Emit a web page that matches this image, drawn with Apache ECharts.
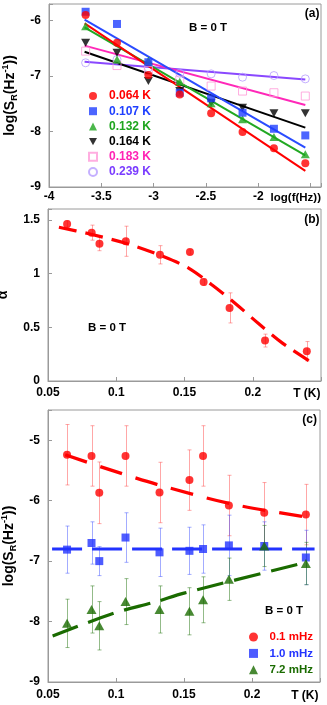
<!DOCTYPE html>
<html>
<head>
<meta charset="utf-8">
<title>noise spectra</title>
<script src="https://cdn.jsdelivr.net/npm/echarts@6/dist/echarts.min.js"></script>
<style>
  html, body { margin: 0; padding: 0; background: #fff; }
  #chart { width: 327px; height: 705px; }
</style>
</head>
<body>
<div id="chart"></div>
<script>
// panel (a): log(S_R) against log(f) for each temperature
var logFreq = [-3.65, -3.35, -3.05, -2.75, -2.45, -2.15, -1.85, -1.55];
var s064 = [-5.9, -6.4, -6.98, -7.33, -7.67, -8.01, -8.3, -8.57];
var s107 = [-5.84, -6.06, -6.75, -7.3, -7.4, -7.66, -7.95, -8.07];
var s132 = [-6.1, -6.7, -6.72, -7.1, -7.49, -7.78, -8.1, -8.41];
var s164 = [-6.4, -6.58, -7.09, -7.27, -7.48, -7.57, -7.67, -7.67];
var s183 = [-6.55, -6.81, -6.9, -7.07, -7.18, -7.27, -7.3, -7.36];
var s239 = [-6.76, -6.7, -6.85, -6.95, -6.96, -7.02, -6.99, -7.05];
// straight fits, from first to last frequency
var fitFreq = [-3.66, -1.55];
var fit064 = [-6.05, -8.71];
var fit107 = [-5.98, -8.29];
var fit132 = [-6.12, -8.43];
var fit164 = [-6.56, -7.93];
var fit183 = [-6.45, -7.52];
var fit239 = [-6.74, -7.06];

// panel (b): exponent alpha against T
var tempK = [0.064, 0.082, 0.0877, 0.107, 0.132, 0.154, 0.164, 0.183, 0.209, 0.2396];
var alpha = [1.46, 1.38, 1.277, 1.30, 1.174, 1.20, 0.92, 0.68, 0.376, 0.277];
var alphaErr = [0.03, 0.07, 0.065, 0.14, 0.085, 0.02, 0.03, 0.14, 0.06, 0.09];
var fitTb = [0.058, 0.08, 0.11, 0.134, 0.153, 0.17, 0.187, 0.204, 0.222, 0.241];
var fitAlpha = [1.43, 1.37, 1.27, 1.16, 1.05, 0.895, 0.724, 0.537, 0.35, 0.19];

// panel (c): log(S_R) against T at three frequencies
var s01 = [-5.24, -5.26, -5.87, -5.26, -5.865, -5.66, -5.26, -6.08, -6.2, -6.23];
var err01 = [0.5, 0.5, 0.51, 0.5, 0.5, 0.5, 0.5, 0.5, 0.5, 0.5];
var s10 = [-6.81, -6.7, -7.0, -6.61, -6.855, -6.83, -6.8, -6.74, -6.75, -6.94];
var err10 = [0.39, 0.35, 0.24, 0.41, 0.4, 0.39, 0.4, 0.5, 0.4, 0.45];
var s72 = [-8.03, -7.8, -8.07, -7.67, -7.8, -7.83, -7.64, -7.3, -6.75, -7.04];
var err72 = [0.4, 0.39, 0.4, 0.38, 0.39, 0.39, 0.38, 0.35, 0.34, 0.35];
var fitT01 = [0.0626, 0.089, 0.13, 0.186, 0.245];
var fit01 = [-5.24, -5.44, -5.73, -6.06, -6.29];
var fitT10 = [0.053, 0.246];
var fit10 = [-6.8, -6.8];
var fitT72 = [0.0534, 0.0986, 0.129, 0.15, 0.238];
var fit72 = [-8.24, -7.86, -7.675, -7.53, -7.03];

var FONT = 'Liberation Sans, Arial, sans-serif';
var AXC = '#9a9a9a';
var DOWN = 'path://M0,0L10,0L5,9Z';

function pairs(xs, ys) {
  return xs.map(function (x, i) { return [x, ys[i]]; });
}

function xAx(gi, min, max, interval, hideFrom, margin) {
  return {
    type: 'value', gridIndex: gi, min: min, max: max, interval: interval,
    axisLine: { onZero: false, lineStyle: { color: AXC, width: 1 } },
    axisTick: { inside: true, length: 4, lineStyle: { color: AXC } },
    splitLine: { show: false },
    axisLabel: {
      margin: margin, color: '#000', fontFamily: FONT, fontWeight: 'bold', fontSize: 12,
      showMinLabel: true, hideOverlap: false,
      formatter: function (v) { return v > hideFrom ? '' : String(+v.toFixed(2)); }
    }
  };
}

function yAx(gi, min, max, interval, hideFrom, name, gap) {
  return {
    type: 'value', gridIndex: gi, min: min, max: max, interval: interval,
    name: name, nameLocation: 'middle', nameRotate: 90, nameGap: gap,
    nameTextStyle: {
      color: '#000', fontFamily: FONT, fontWeight: 'bold', fontSize: 14, lineHeight: 18,
      rich: {
        sub: { fontFamily: FONT, fontWeight: 'bold', fontSize: 9, lineHeight: 18, verticalAlign: 'bottom' },
        sup: { fontFamily: FONT, fontWeight: 'bold', fontSize: 9, lineHeight: 18, verticalAlign: 'top' }
      }
    },
    axisLine: { lineStyle: { color: AXC, width: 1 } },
    axisTick: { inside: true, length: 4, lineStyle: { color: AXC } },
    splitLine: { show: false },
    axisLabel: {
      margin: 8, color: '#000', fontFamily: FONT, fontWeight: 'bold', fontSize: 12,
      formatter: function (v) { return v > hideFrom ? '' : String(+v.toFixed(2)); }
    }
  };
}

function dots(gi, name, xs, ys, symbol, size, color, hollow) {
  return {
    type: 'scatter', name: name, xAxisIndex: gi, yAxisIndex: gi, z: 4,
    symbol: symbol, symbolSize: size,
    itemStyle: hollow
      ? { color: 'rgba(255,255,255,0)', borderColor: color, borderWidth: 1 }
      : { color: color },
    data: pairs(xs, ys)
  };
}

function fitLine(gi, xs, ys, color, width, dash, smooth) {
  return {
    type: 'line', xAxisIndex: gi, yAxisIndex: gi, z: 3, silent: true,
    symbol: 'none', smooth: smooth || false,
    lineStyle: { color: color, width: width, type: dash || 'solid' },
    data: pairs(xs, ys)
  };
}

function errBars(gi, xs, ys, es, color) {
  return {
    type: 'custom', xAxisIndex: gi, yAxisIndex: gi, z: 2, silent: true,
    encode: { x: 0, y: 1 },
    data: xs.map(function (x, i) { return [x, ys[i], es[i]]; }),
    renderItem: function (params, api) {
      var x = api.value(0), y = api.value(1), e = api.value(2);
      var hi = api.coord([x, y + e]), lo = api.coord([x, y - e]);
      var cx = Math.round(hi[0]) + 0.5;
      var st = { stroke: color, lineWidth: 1 };
      return { type: 'group', children: [
        { type: 'line', shape: { x1: cx, y1: hi[1], x2: cx, y2: lo[1] }, style: st },
        { type: 'line', shape: { x1: cx - 2, y1: hi[1], x2: cx + 2, y2: hi[1] }, style: st },
        { type: 'line', shape: { x1: cx - 2, y1: lo[1], x2: cx + 2, y2: lo[1] }, style: st }
      ] };
    }
  };
}

function txt(x, y, s, color, align, size) {
  return {
    type: 'text', x: x, y: y, z: 10,
    style: {
      text: s, fill: color || '#000', font: 'bold ' + (size || 11.5) + 'px ' + FONT,
      align: align || 'center', verticalAlign: 'middle'
    }
  };
}

var RED = '#ff0000', BLUE = '#1f3fff', GREEN = '#1ea51e', PINK = '#ff22b4', VIOLET = '#7a3cff';
var DKGREEN = '#1a6b00', BLUE2 = '#2233ff';

var gridBox = { show: true, borderColor: AXC, borderWidth: 1, backgroundColor: 'transparent', containLabel: false, outerBoundsMode: 'none' };
var yName = 'log(S{sub|R}(Hz{sup|-1}))';

var chart = echarts.init(document.getElementById('chart'), null, { renderer: 'canvas' });
chart.setOption({
  animation: false,
  backgroundColor: '#fff',
  grid: [
    Object.assign({ left: 49, right: 6, top: 4, height: 183 }, gridBox),
    Object.assign({ left: 48, right: 6, top: 209, height: 172 }, gridBox),
    Object.assign({ left: 48, right: 7, top: 410, height: 272 }, gridBox)
  ],
  xAxis: [
    xAx(0, -4, -1.4, 0.5, -1.75, 4),
    xAx(1, 0.05, 0.25, 0.05, 0.225, 6),
    xAx(2, 0.05, 0.25, 0.05, 0.225, 7)
  ],
  yAxis: [
    yAx(0, -9, -5.7, 1, -5.9, yName, 28),
    yAx(1, 0, 1.6, 0.5, 1.55, 'α', 34),
    yAx(2, -9, -4.5, 1, -4.9, yName, 28)
  ],
  legend: [
    {
      orient: 'vertical', left: 83, top: 84, itemWidth: 8, itemHeight: 8, itemGap: 1.2,
      selectedMode: false,
      textStyle: { fontFamily: FONT, fontWeight: 'bold', fontSize: 12, lineHeight: 14, padding: [0, 0, 0, 7] },
      data: [
        { name: '0.064 K', icon: 'circle', textStyle: { color: RED } },
        { name: '0.107 K', icon: 'rect', textStyle: { color: BLUE } },
        { name: '0.132 K', icon: 'triangle', textStyle: { color: GREEN } },
        { name: '0.164 K', icon: DOWN, textStyle: { color: '#000' } },
        { name: '0.183 K', icon: 'rect', textStyle: { color: PINK } },
        { name: '0.239 K', icon: 'circle', textStyle: { color: VIOLET } }
      ]
    },
    {
      orient: 'vertical', left: 244, top: 625, itemWidth: 9, itemHeight: 9, itemGap: 2.4,
      selectedMode: false,
      textStyle: { fontFamily: FONT, fontWeight: 'bold', fontSize: 11.5, lineHeight: 14, padding: [0, 0, 0, 6.5] },
      data: [
        { name: '0.1 mHz', icon: 'circle', textStyle: { color: RED } },
        { name: '1.0 mHz', icon: 'rect', textStyle: { color: BLUE2 } },
        { name: '7.2 mHz', icon: 'triangle', textStyle: { color: DKGREEN } }
      ]
    }
  ],
  graphic: [
    txt(319.5, 14, '(a)', '#000', 'right', 12),
    txt(208, 28, 'B = 0 T'),
    txt(321, 198, 'log(f(Hz))', '#000', 'right', 11.5),
    txt(319.5, 220, '(b)', '#000', 'right', 12),
    txt(107, 328, 'B = 0 T'),
    txt(320.5, 394, 'T (K)', '#000', 'right', 12),
    txt(317, 420, '(c)', '#000', 'right', 12),
    txt(284, 611, 'B = 0 T'),
    txt(318.5, 696, 'T (K)', '#000', 'right', 12)
  ],
  series: [
    // (a)
    fitLine(0, fitFreq, fit239, '#8a48ff', 2),
    fitLine(0, fitFreq, fit183, '#ff28b8', 2),
    fitLine(0, fitFreq, fit164, '#000', 2),
    fitLine(0, fitFreq, fit132, '#22a822', 2),
    fitLine(0, fitFreq, fit107, '#2a4cff', 2),
    fitLine(0, fitFreq, fit064, RED, 2),
    dots(0, '0.239 K', logFreq, s239, 'circle', 8, '#b79cff', true),
    dots(0, '0.183 K', logFreq, s183, 'rect', 8, '#ff9ad8', true),
    dots(0, '0.164 K', logFreq, s164, DOWN, [9, 8], '#000'),
    dots(0, '0.132 K', logFreq, s132, 'triangle', [9, 8], GREEN),
    dots(0, '0.107 K', logFreq, s107, 'rect', 8, BLUE),
    dots(0, '0.064 K', logFreq, s064, 'circle', 8, RED),
    // (b)
    errBars(1, tempK, alpha, alphaErr, 'rgba(255,60,60,0.45)'),
    fitLine(1, fitTb, fitAlpha, RED, 3.2, [18, 9], 0.3),
    dots(1, 'alpha', tempK, alpha, 'circle', 8, RED),
    // (c)
    errBars(2, tempK, s01, err01, 'rgba(255,60,60,0.45)'),
    errBars(2, tempK, s10, err10, 'rgba(50,70,255,0.45)'),
    errBars(2, tempK, s72, err72, 'rgba(40,120,20,0.5)'),
    fitLine(2, fitT01, fit01, RED, 3.3, [23, 14], 0.3),
    fitLine(2, fitT10, fit10, BLUE2, 2.8, [30, 10]),
    fitLine(2, fitT72, fit72, DKGREEN, 3.2, [27, 11], 0.3),
    dots(2, '0.1 mHz', tempK, s01, 'circle', 8, RED),
    dots(2, '1.0 mHz', tempK, s10, 'rect', 8, BLUE2),
    dots(2, '7.2 mHz', tempK, s72, 'triangle', [10, 9], DKGREEN)
  ]
});
</script>
</body>
</html>
